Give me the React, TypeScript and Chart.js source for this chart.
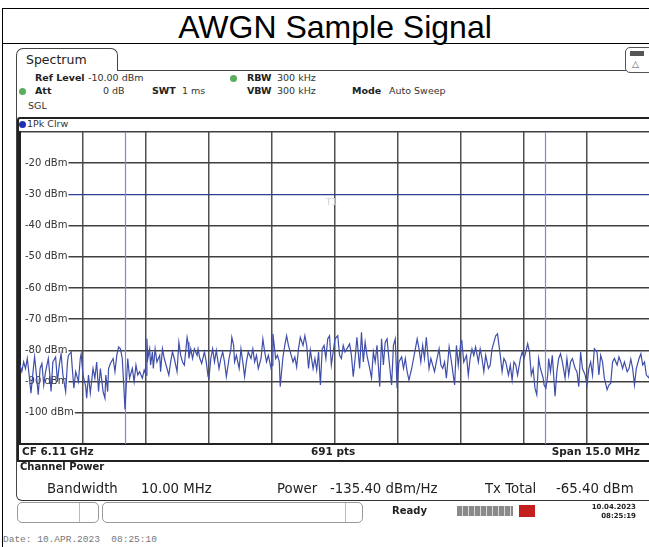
import React, { useEffect, useRef } from "react";
import { Chart, registerables } from "chart.js";

Chart.register(...registerables);

const TITLE = "AWGN Sample Signal";
const SPAN_MHZ = 15;
const SWEEP_POINT_COUNT = 691;
const CHANNEL_BANDWIDTH_MHZ = 10;
const THRESHOLD_DBM = -30;
const REF_LEVEL_DBM = -10;
const BOTTOM_LEVEL_DBM = -110;
const LEVEL_STEP_DB = 10;
const X_DIVISIONS = 10;

// sweep point index (0..690) and trace level in dBm
const SWEEP_POINTS = [
  0, 2, 4, 6, 8, 10, 12, 15, 16, 18, 20, 22, 24, 26, 28, 31, 33, 34, 36, 39, 41, 43, 45, 47, 50, 52, 53, 56, 57, 59,
  61, 64, 66, 67, 69, 72, 73, 75, 77, 80, 82, 84, 86, 88, 91, 93, 94, 96, 97, 99, 102, 104, 106, 108, 110, 112, 114, 115, 117, 118,
  120, 123, 125, 127, 129, 131, 134, 136, 138,
  139, 140, 142, 143, 145, 146, 148, 150, 153, 154, 156, 158, 161, 163, 165, 167, 169, 172, 174, 176, 178, 180, 183, 184, 185, 187,
  189, 191, 194, 195, 197, 199, 202, 204, 206, 207, 209, 211, 213, 215, 218, 220, 222, 224, 226, 229, 231, 232, 234, 235, 237, 240,
  242, 244, 246, 248, 250, 253, 255, 257, 259, 261, 264, 266, 268, 270, 272, 275,
  276, 277, 280, 282, 284, 285, 288, 290, 292, 294, 296, 299, 301, 303, 305, 307, 310, 312, 314, 316, 318, 321, 323, 325, 327, 329,
  331, 333, 335, 337, 339, 341, 343, 345, 348, 350, 352, 354, 356, 358, 361, 363, 365, 367, 369, 372, 374, 376, 378, 380, 383, 385,
  387, 389, 391, 394, 396, 398, 400, 402, 404, 407, 409, 411, 413,
  415, 418, 420, 422, 424, 426, 429, 431, 433, 435, 437, 439, 441, 443, 445, 448, 450, 452, 454, 456, 459, 461, 463, 465, 467, 470,
  472, 474, 476, 478, 480, 483, 484, 486, 489, 491, 493, 495, 497, 499, 502, 504, 506, 508, 510, 513, 515, 517, 519, 521, 523, 526,
  528, 530, 532, 535, 537, 539, 541, 543, 545, 548, 550, 552,
  554, 556, 558, 560, 562, 564, 566, 568, 570, 573, 574, 576, 578, 579, 581, 583, 586, 588, 590, 592, 594, 597, 599, 601, 603, 605,
  608, 610, 612, 614, 616, 619, 621, 623, 625, 627, 629, 632, 634, 636, 638, 640, 643, 645, 647, 649, 651, 654, 656, 658, 660, 662,
  665, 667, 669, 671, 673, 675, 678, 680, 682, 684, 686, 689, 690,
];

const TRACE_DBM = [
  -84.7, -86.8, -83.7, -85.8, -82.6, -87.9, -93.7, -84.7, -82.1, -87.9, -94.2, -85.8, -84.2, -91.1, -86.8, -82.6, -88.9, -93.2, -83.7, -82.1, -90.0, -84.7, -81.1, -87.9, -93.2, -83.7, -81.6, -80.5, -84.7, -92.1,
  -86.8, -90.0, -82.6, -81.1, -87.9, -91.6, -95.3, -87.9, -93.7, -85.8, -88.9, -83.7, -93.2, -85.8, -93.2, -95.3, -87.9, -93.2, -85.8, -84.2, -82.6, -86.8, -81.6, -78.9, -79.5, -82.6, -93.2, -98.9, -87.9, -82.6,
  -88.9, -85.8, -90.0, -84.7, -87.9, -86.8, -88.9, -86.3, -87.9,
  -76.3, -82.6, -79.5, -84.7, -80.5, -85.8, -79.5, -83.7, -81.6, -86.8, -79.5, -82.6, -85.8, -87.9, -83.7, -80.5, -82.6, -86.8, -77.4, -81.6, -83.7, -84.7, -75.8, -77.4, -82.6, -79.5,
  -82.6, -79.5, -81.6, -79.5, -82.6, -84.2, -80.5, -83.7, -88.4, -88.9, -82.6, -79.5, -83.7, -80.0, -85.8, -82.6, -80.5, -83.7, -88.4, -82.6, -79.5, -75.8, -78.4, -83.7, -81.6, -85.8,
  -79.5, -83.7, -88.4, -83.7, -80.5, -82.6, -79.5, -83.7, -81.6, -85.8, -82.6, -76.3, -80.5, -83.7, -81.6, -85.8,
  -84.7, -74.7, -82.6, -81.6, -83.7, -91.6, -82.1, -78.4, -75.3, -78.4, -80.5, -83.7, -82.1, -85.3, -79.5, -75.8, -78.4, -75.3, -78.4, -85.8, -80.0, -85.8, -82.6, -86.3, -80.5, -91.1,
  -79.5, -78.4, -82.6, -76.3, -75.3, -84.7, -80.5, -76.3, -75.3, -81.6, -82.6, -78.4, -80.5, -79.5, -77.9, -81.6, -88.4, -82.6, -75.8, -85.8, -74.2, -83.7, -77.4, -81.6, -85.8, -88.9,
  -80.5, -83.7, -78.4, -91.6, -76.3, -84.7, -77.4, -76.3, -82.6, -91.1, -78.4, -76.3, -92.1,
  -83.7, -82.1, -85.8, -82.6, -86.8, -89.5, -85.8, -82.6, -79.5, -76.3, -79.5, -83.7, -78.4, -82.6, -75.8, -85.8, -82.6, -84.7, -86.8, -83.7, -79.5, -84.7, -85.8, -83.7, -88.9, -78.9,
  -82.6, -86.8, -91.1, -78.4, -84.7, -76.8, -77.4, -83.7, -81.6, -87.9, -82.6, -79.5, -81.6, -78.9, -83.7, -79.5, -82.6, -86.8, -81.6, -85.8, -84.7, -79.5, -77.4, -75.3, -74.7, -81.6,
  -86.8, -82.6, -83.7, -87.9, -84.7, -89.5, -83.7, -84.7, -87.9, -82.6, -80.5, -82.6,
  -80.5, -77.9, -80.5, -87.9, -85.8, -92.1, -94.2, -82.6, -85.8, -88.9, -91.1, -92.1, -87.9, -82.6, -86.8, -81.6, -94.7, -86.8, -82.6, -81.1, -83.7, -88.9, -82.6, -87.9, -83.7, -82.6,
  -85.8, -86.8, -91.6, -80.5, -85.8, -87.9, -91.1, -85.8, -83.7, -87.9, -79.5, -80.5, -87.9, -81.6, -83.7, -88.9, -92.6, -91.1, -90.5, -83.7, -82.6, -84.7, -82.1, -83.7, -85.8, -83.7,
  -86.8, -85.8, -82.8, -85.8, -91.1, -85.8, -82.6, -81.1, -84.7, -83.7, -87.9, -88.9, -86.0,
];

const FONT = '"DejaVu Sans", Verdana, sans-serif';

type TProps = {
  x: number;
  y: number;
  s?: number;
  b?: boolean;
  c?: string;
  f?: string;
  right?: boolean;
  children: React.ReactNode;
};

const T = ({ x, y, s = 10, b = false, c = "#222", f = FONT, right = false, children }: TProps) => (
  <div
    style={{
      position: "absolute",
      ...(right ? { right: 649 - x } : { left: x }),
      top: y - 0.48 * s,
      fontSize: s,
      fontWeight: b ? "bold" : "normal",
      color: c,
      fontFamily: f,
      whiteSpace: "pre",
      lineHeight: 1,
    }}
  >
    {children}
  </div>
);

const Dot = ({ x, y, c }: { x: number; y: number; c: string }) => (
  <div
    style={{
      position: "absolute",
      left: x - 3.5,
      top: y - 3.5,
      width: 7,
      height: 7,
      borderRadius: "50%",
      background: c,
    }}
  />
);

const Box = (style: React.CSSProperties) => <div style={{ position: "absolute", boxSizing: "border-box", ...style }} />;

const markerPlugin = {
  id: "rsMarkers",
  beforeDatasetsDraw(chart: any) {
    const { ctx, chartArea, scales } = chart;
    const xs = scales.x;
    const ys = scales.y;
    ctx.save();
    ctx.strokeStyle = "#7f88dc";
    ctx.lineWidth = 1.2;
    for (const f of [-CHANNEL_BANDWIDTH_MHZ / 2, CHANNEL_BANDWIDTH_MHZ / 2]) {
      const px = Math.round(xs.getPixelForValue(f)) + 0.5;
      ctx.beginPath();
      ctx.moveTo(px, chartArea.top);
      ctx.lineTo(px, chartArea.bottom);
      ctx.stroke();
    }
    const py = ys.getPixelForValue(THRESHOLD_DBM);
    ctx.fillStyle = "#d0d0d0";
    ctx.font = '9px "DejaVu Sans"';
    ctx.textBaseline = "middle";
    ctx.fillText("T1", xs.getPixelForValue(0) - 9, py + 8);
    ctx.restore();
  },
};

export default function App() {
  const canvasRef = useRef<HTMLCanvasElement | null>(null);

  useEffect(() => {
    if (!canvasRef.current) return;
    const data = SWEEP_POINTS.map((p, i) => ({
      x: -SPAN_MHZ / 2 + (p * SPAN_MHZ) / (SWEEP_POINT_COUNT - 1),
      y: TRACE_DBM[i],
    }));
    const edge = (v: number) => v === REF_LEVEL_DBM || v === BOTTOM_LEVEL_DBM;
    const chart = new Chart(canvasRef.current, {
      type: "line",
      data: {
        datasets: [
          {
            label: "1Pk Clrw",
            data,
            borderColor: "#3f4eaa",
            borderWidth: 1.2,
            pointRadius: 0,
            tension: 0,
          },
        ],
      },
      options: {
        animation: false,
        responsive: true,
        maintainAspectRatio: false,
        layout: { padding: { left: 20, right: 10, top: 15, bottom: 13 } },
        plugins: { legend: { display: false }, tooltip: { enabled: false } },
        scales: {
          x: {
            type: "linear",
            min: -SPAN_MHZ / 2,
            max: SPAN_MHZ / 2,
            afterFit: (s: any) => {
              s.height = 0;
            },
            ticks: { display: false, stepSize: SPAN_MHZ / X_DIVISIONS, autoSkip: false },
            grid: { color: "#505050", lineWidth: 1.5, drawTicks: false },
            border: { display: true, color: "#222", width: 2 },
          },
          y: {
            type: "linear",
            min: BOTTOM_LEVEL_DBM,
            max: REF_LEVEL_DBM,
            afterFit: (s: any) => {
              s.width = 0;
            },
            ticks: {
              stepSize: LEVEL_STEP_DB,
              autoSkip: false,
              mirror: true,
              padding: 5,
              color: "#333",
              font: { family: "DejaVu Sans", size: 10 },
              callback: (v: any) => (edge(Number(v)) ? "" : `${v} dBm`),
              showLabelBackdrop: true,
              backdropColor: (ctx: any) => (edge(ctx.tick?.value) ? "rgba(0,0,0,0)" : "#ffffff"),
              backdropPadding: { left: 4, right: 1, top: 3, bottom: 3 },
            },
            grid: {
              drawTicks: false,
              color: (ctx: any) => (ctx.tick && ctx.tick.value === THRESHOLD_DBM ? "#2f3c98" : "#404040"),
              lineWidth: (ctx: any) => (ctx.tick && ctx.tick.value === THRESHOLD_DBM ? 1.2 : 1.5),
            },
            border: { display: true, color: "#222", width: 2 },
          },
        },
      },
      plugins: [markerPlugin],
    });
    return () => chart.destroy();
  }, []);

  return (
    <div style={{ position: "fixed", left: 0, top: 0, width: 649, height: 547, overflow: "hidden", background: "#fff" }}>
      {/* outer report box */}
      <Box left={2} top={8} width={700} height={600} borderLeft="1.5px solid #000" borderTop="1.5px solid #000" />
      <Box left={2} top={43} width={700} height={0} borderTop="1.5px solid #000" />
      <div
        style={{
          position: "absolute",
          left: 0,
          top: 10.5,
          width: 670,
          textAlign: "center",
          fontFamily: '"Liberation Sans", Arial, sans-serif',
          fontSize: 32,
          lineHeight: "32px",
          color: "#000",
        }}
      >
        {TITLE}
      </div>

      {/* instrument frame */}
      <Box left={16} top={70} width={700} height={431} borderLeft="1px solid #444" borderTop="1px solid #444" borderBottom="1.5px solid #333" borderBottomLeftRadius={6} />
      <Box left={16} top={48} width={102} height={23} borderLeft="1px solid #444" borderTop="1px solid #444" borderRight="1px solid #444" borderTopLeftRadius={7} borderTopRightRadius={7} background="#fff" />
      <T x={26} y={60} s={12.5}>Spectrum</T>
      <Box left={625} top={47} width={30} height={26} border="1px solid #555" borderRadius={5} background="#fff" />
      <Box left={630} top={51} width={14} height={5} background="#555" />
      <T x={632} y={64} s={9} c="#555">△</T>

      <T x={35} y={78} s={9.5} b>Ref Level</T>
      <T x={88} y={78} s={9.5} c="#333">-10.00 dBm</T>
      <Dot x={233} y={78} c="#5cae5c" />
      <T x={247} y={78} s={9.5} b>RBW</T>
      <T x={277} y={78} s={9.5} c="#333">300 kHz</T>
      <Dot x={22} y={91} c="#5cae5c" />
      <T x={35} y={91} s={9.5} b>Att</T>
      <T x={103} y={91} s={9.5} c="#333">0 dB</T>
      <T x={152} y={91} s={9.5} b>SWT</T>
      <T x={182} y={91} s={9.5} c="#333">1 ms</T>
      <T x={247} y={91} s={9.5} b>VBW</T>
      <T x={277} y={91} s={9.5} c="#333">300 kHz</T>
      <T x={352} y={91} s={9.5} b>Mode</T>
      <T x={389} y={91} s={9.5} c="#333">Auto Sweep</T>
      <T x={28} y={106} s={9.5} c="#333">SGL</T>

      {/* diagram frame */}
      <Box left={17} top={117} width={700} height={345} borderLeft="2px solid #222" borderTop="2px solid #222" borderBottom="2px solid #222" borderTopLeftRadius={3} />
      <Dot x={22} y={124} c="#1f2fb4" />
      <T x={27} y={124} s={9.5} c="#333">1Pk Clrw</T>

      <div style={{ position: "absolute", left: 0, top: 117, width: 660, height: 340 }}>
        <canvas ref={canvasRef} />
      </div>

      <T x={22} y={451} s={10.5} b>CF 6.11 GHz</T>
      <T x={311} y={451} s={10.5} b>691 pts</T>
      <T x={640} y={451} s={10.5} b right>Span 15.0 MHz</T>

      <T x={20} y={467} s={10} b>Channel Power</T>
      <T x={47} y={488} s={13.3}>Bandwidth</T>
      <T x={141} y={488} s={13.3}>10.00 MHz</T>
      <T x={277} y={488} s={13.3}>Power</T>
      <T x={330} y={488} s={13.3}>-135.40 dBm/Hz</T>
      <T x={485} y={488} s={13.3}>Tx Total</T>
      <T x={556} y={488} s={13.3}>-65.40 dBm</T>

      {/* status bar */}
      <Box left={17} top={502} width={82} height={21} border="1px solid #999" borderRadius={5} />
      <Box left={79} top={503} width={0} height={19} borderLeft="1px solid #bbb" />
      <Box left={102} top={502} width={261} height={21} border="1px solid #999" borderRadius={5} />
      <Box left={345} top={503} width={0} height={19} borderLeft="1px solid #bbb" />
      <T x={392} y={511} s={10} b>Ready</T>
      <Box
        left={457}
        top={506}
        width={56}
        height={10}
        background="repeating-linear-gradient(90deg, #8a8a8a 0px, #8a8a8a 5px, #d8d8d8 5px, #d8d8d8 6px)"
      />
      <Box left={519} top={505} width={16} height={12} background="#c41e1e" />
      <T x={636} y={507} s={7} b right>10.04.2023</T>
      <T x={636} y={516} s={7} b right>08:25:19</T>

      <T x={3} y={540} s={9.5} c="#777" f='"Liberation Mono", "DejaVu Sans Mono", monospace'>Date: 10.APR.2023  08:25:10</T>
    </div>
  );
}
